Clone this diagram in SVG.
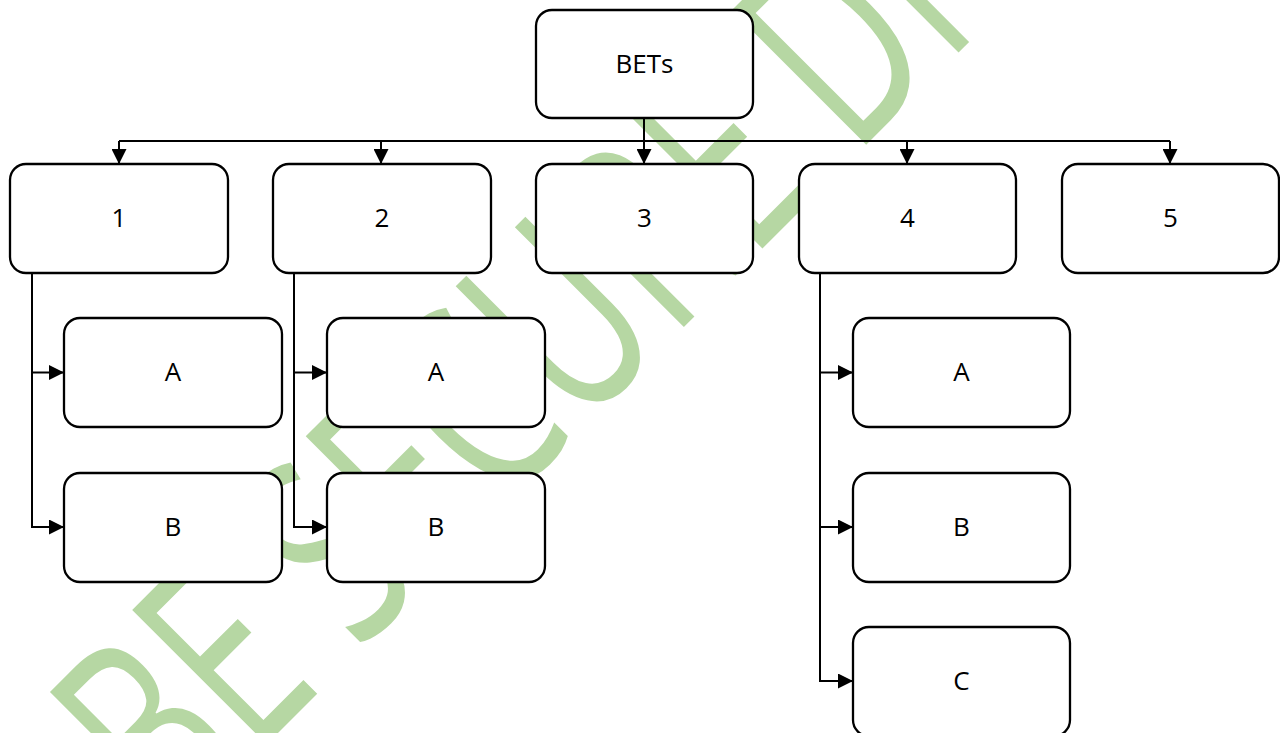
<svg xmlns="http://www.w3.org/2000/svg" width="1280" height="733" viewBox="0 0 1280 733">
  <defs>
    <style>
      .box { fill: #ffffff; stroke: #000000; stroke-width: 2.3; }
      .lbl { font-family: "Open Sans", "Liberation Sans", sans-serif; font-size: 26px; fill: #000000; text-anchor: middle; dominant-baseline: central; }
      .conn { fill: none; stroke: #000000; stroke-width: 2; }
      .wm { font-family: "Open Sans", "Liberation Sans", sans-serif; font-size: 180px; fill: #b6d7a3; }
    </style>
    <marker id="arr" viewBox="0 0 15 15" refX="15" refY="7.5" markerWidth="15" markerHeight="15" markerUnits="userSpaceOnUse" orient="auto">
      <path d="M0,0 L15,7.5 L0,15 Z" fill="#000000"/>
    </marker>
  </defs>
  <rect x="0" y="0" width="1280" height="733" fill="#ffffff"/>

  <g id="watermark">
    <text class="wm" transform="translate(172,839) rotate(-45) scale(1,1.48)">BE SECURE DI</text>
  </g>

  <g id="connectors">
    <path class="conn" d="M119,141 H1170"/>
    <path class="conn" d="M644,118 V164" marker-end="url(#arr)"/>
    <path class="conn" d="M119,141 V164" marker-end="url(#arr)"/>
    <path class="conn" d="M381,141 V164" marker-end="url(#arr)"/>
    <path class="conn" d="M907,141 V164" marker-end="url(#arr)"/>
    <path class="conn" d="M1170,141 V164" marker-end="url(#arr)"/>
    <path class="conn" d="M32,273 V527 H64" marker-end="url(#arr)"/>
    <path class="conn" d="M32,372.5 H64" marker-end="url(#arr)"/>
    <path class="conn" d="M294,273 V527 H327" marker-end="url(#arr)"/>
    <path class="conn" d="M294,372.5 H327" marker-end="url(#arr)"/>
    <path class="conn" d="M820,273 V681 H853" marker-end="url(#arr)"/>
    <path class="conn" d="M820,372.5 H853" marker-end="url(#arr)"/>
    <path class="conn" d="M820,527 H853" marker-end="url(#arr)"/>
  </g>

  <g id="node-bets"><rect class="box" x="536" y="10" width="217" height="108" rx="16"/><text class="lbl" x="644.5" y="62.5">BETs</text></g>

  <g id="node-1"><rect class="box" x="10" y="164" width="218" height="109" rx="16"/><text class="lbl" x="119" y="217">1</text></g>
  <g id="node-2"><rect class="box" x="273" y="164" width="218" height="109" rx="16"/><text class="lbl" x="382" y="217">2</text></g>
  <g id="node-3"><rect class="box" x="536" y="164" width="217" height="109" rx="16"/><text class="lbl" x="644.5" y="217">3</text></g>
  <g id="node-4"><rect class="box" x="799" y="164" width="217" height="109" rx="16"/><text class="lbl" x="907.5" y="217">4</text></g>
  <g id="node-5"><rect class="box" x="1062" y="164" width="217" height="109" rx="16"/><text class="lbl" x="1170.5" y="217">5</text></g>

  <g id="node-1a"><rect class="box" x="64" y="318" width="218" height="109" rx="16"/><text class="lbl" x="173" y="371">A</text></g>
  <g id="node-1b"><rect class="box" x="64" y="473" width="218" height="109" rx="16"/><text class="lbl" x="173" y="526">B</text></g>

  <g id="node-2a"><rect class="box" x="327" y="318" width="218" height="109" rx="16"/><text class="lbl" x="436" y="371">A</text></g>
  <g id="node-2b"><rect class="box" x="327" y="473" width="218" height="109" rx="16"/><text class="lbl" x="436" y="526">B</text></g>

  <g id="node-4a"><rect class="box" x="853" y="318" width="217" height="109" rx="16"/><text class="lbl" x="961.5" y="371">A</text></g>
  <g id="node-4b"><rect class="box" x="853" y="473" width="217" height="109" rx="16"/><text class="lbl" x="961.5" y="526">B</text></g>
  <g id="node-4c"><rect class="box" x="853" y="627" width="217" height="109" rx="16"/><text class="lbl" x="961.5" y="680">C</text></g>
</svg>
